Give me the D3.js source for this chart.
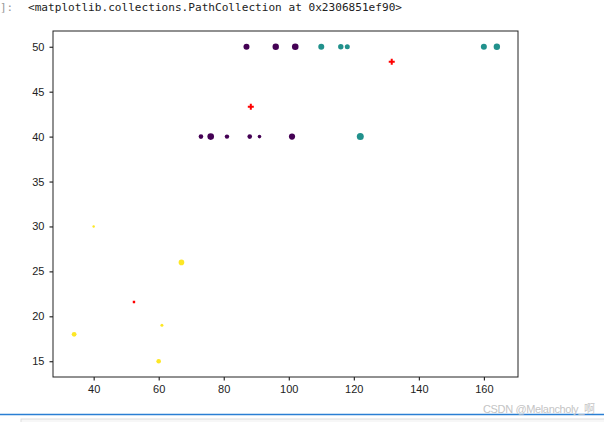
<!DOCTYPE html>
<html>
<head>
<meta charset="utf-8">
<script src="https://cdn.jsdelivr.net/npm/d3@7"></script>
<style>
  body { margin: 0; background: #fff; }
  svg { display: block; }
  .tick text { font-family: "Liberation Sans", Arial, sans-serif; font-size: 11px; fill: #222; }
</style>
</head>
<body>
<div id="chart"></div>
<script>
// points
var xs = [34, 40, 67, 61, 60, 87, 96, 102, 73, 76, 81, 88, 91, 101, 110, 116, 118, 160, 164, 122];
var ys = [18, 30, 26, 19, 15, 50, 50, 50, 40, 40, 40, 40, 40, 40, 50, 50, 50, 50, 50, 40];
var sizes = [2.4, 1.2, 2.8, 1.5, 2.3, 3, 3.2, 3.3, 2.3, 3.3, 2.2, 2.3, 1.8, 3.1, 3, 2.7, 2.5, 3, 3.2, 3.5];
var labels = [2, 2, 2, 2, 2, 0, 0, 0, 0, 0, 0, 0, 0, 0, 1, 1, 1, 1, 1, 1];
var labelColors = ["#440154", "#21918c", "#fde725"];
// cluster centres (red plus)
var centerX = [88.33, 131.67, 52.4];
var centerY = [43.33, 48.33, 21.6];
var centerSize = [3, 3, 1.2];
var xTicks = [40, 60, 80, 100, 120, 140, 160];
var yTicks = [15, 20, 25, 30, 35, 40, 45, 50];

var W = 604, H = 422;
var margin = {top: 31, right: 86, bottom: 45, left: 53};
var width = W - margin.left - margin.right;
var height = H - margin.top - margin.bottom;

var svg = d3.select("#chart").append("svg")
  .attr("width", W)
  .attr("height", H);

// notebook output line
svg.append("text")
  .attr("x", 0)
  .attr("y", 11)
  .style("font-family", "'DejaVu Sans Mono', monospace")
  .style("font-size", "11px")
  .style("fill", "#999")
  .text("]:");
svg.append("text")
  .attr("x", 28)
  .attr("y", 11)
  .style("font-family", "'DejaVu Sans Mono', monospace")
  .style("font-size", "11.2px")
  .style("fill", "#222")
  .attr("textLength", 374)
  .attr("lengthAdjust", "spacingAndGlyphs")
  .text("<matplotlib.collections.PathCollection at 0x2306851ef90>");

var xScale = d3.scaleLinear().domain([27.5, 170.5]).range([0, width]);
var yScale = d3.scaleLinear().domain([13.25, 51.75]).range([height, 0]);

var g = svg.append("g")
  .attr("transform", "translate(" + margin.left + "," + margin.top + ")");

var xAxis = d3.axisBottom(xScale).tickValues(xTicks).tickSize(3.5).tickPadding(5);
var yAxis = d3.axisLeft(yScale).tickValues(yTicks).tickSize(3.5).tickPadding(5);

g.append("g")
  .attr("transform", "translate(0," + height + ")")
  .call(xAxis)
  .call(function(s) { s.select(".domain").remove(); });
g.append("g")
  .call(yAxis)
  .call(function(s) { s.select(".domain").remove(); });

g.append("rect")
  .attr("width", width)
  .attr("height", height)
  .style("fill", "none")
  .style("stroke", "#222")
  .style("stroke-width", 1);

g.append("g")
  .selectAll("circle")
  .data(xs)
  .enter()
  .append("circle")
  .attr("cx", function(d) { return xScale(d); })
  .attr("cy", function(d, i) { return yScale(ys[i]); })
  .attr("r", function(d, i) { return sizes[i]; })
  .style("fill", function(d, i) { return labelColors[labels[i]]; });

g.append("g")
  .selectAll("path")
  .data(centerX)
  .enter()
  .append("path")
  .attr("d", function(d, i) {
    var cx = xScale(d), cy = yScale(centerY[i]), s = centerSize[i];
    return "M" + (cx - s) + "," + cy + "H" + (cx + s) + "M" + cx + "," + (cy - s) + "V" + (cy + s);
  })
  .style("stroke", "red")
  .style("stroke-width", function(d, i) { return centerSize[i] > 2 ? 2 : 2.2; })
  .style("fill", "none");

// page footer bits
svg.append("rect")
  .attr("x", 21).attr("y", 419).attr("width", 600).attr("height", 10)
  .style("fill", "#f7f7f7").style("stroke", "#ddd");
svg.append("line")
  .attr("x1", 0).attr("x2", W).attr("y1", 414.5).attr("y2", 414.5)
  .style("stroke", "#2a7fd4").style("stroke-width", 1.5);
svg.append("text")
  .attr("x", 483)
  .attr("y", 413)
  .style("font-family", "'Liberation Sans', 'Noto Sans CJK SC', sans-serif")
  .style("font-size", "11px")
  .style("fill", "#c4c4c4")
  .attr("textLength", 112)
  .text("CSDN  @Melancholy_啊");
</script>
</body>
</html>
